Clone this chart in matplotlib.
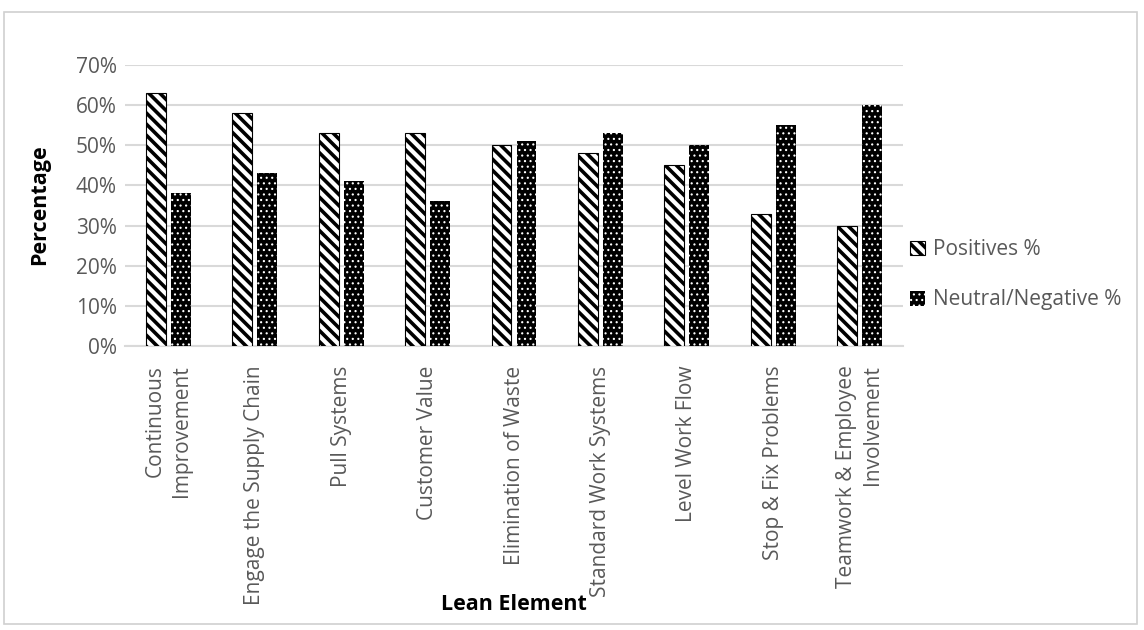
import numpy as np
import matplotlib.pyplot as plt
from matplotlib.patches import Rectangle
from matplotlib.ticker import PercentFormatter

plt.rcParams['font.family'] = ['Open Sans', 'DejaVu Sans']

# Lean elements and survey percentages
categories = ["Continuous\nImprovement", "Engage the Supply Chain", "Pull Systems",
              "Customer Value", "Elimination of Waste", "Standard Work Systems",
              "Level Work Flow", "Stop & Fix Problems", "Teamwork & Employee\nInvolvement"]
positives = [63, 58, 53, 53, 50, 48, 45, 33, 30]
neutral_negative = [38, 43, 41, 36, 51, 53, 50, 55, 60]

fig = plt.figure(figsize=(11.44, 6.30), dpi=100)
ax = fig.add_axes([125 / 1144, 1 - 346 / 630, 778 / 1144, 281 / 630])

# outer chart border
fig.patches.append(Rectangle((4 / 1144, 6 / 630), 1133 / 1144, 612 / 630,
                             transform=fig.transFigure, fill=False,
                             edgecolor='#d0d0d0', linewidth=1.2))

x = np.arange(len(categories))
w = 0.23
gap = 0.06
stripe_lw = 2.6
dot_lw = 0.8
with plt.rc_context({'hatch.linewidth': stripe_lw}):
    b1 = ax.bar(x - (w + gap) / 2, positives, w, facecolor='white', edgecolor='black',
                hatch='\\\\\\', linewidth=0.8, label='Positives %', zorder=3)
with plt.rc_context({'hatch.linewidth': dot_lw}):
    b2 = ax.bar(x + (w + gap) / 2, neutral_negative, w, facecolor='black', edgecolor='white',
                hatch='...', linewidth=0, label='Neutral/Negative %', zorder=3)

ax.set_xlim(-0.5, len(categories) - 0.5)
ax.set_ylim(0, 70)
ax.set_yticks(np.arange(0, 71, 10))
ax.yaxis.set_major_formatter(PercentFormatter(decimals=0))
ax.grid(axis='y', color='#d9d9d9', linewidth=1.5, zorder=0)
for s in ['top', 'right', 'left']:
    ax.spines[s].set_visible(False)
ax.spines['bottom'].set_color('#d9d9d9')
ax.spines['bottom'].set_linewidth(1.5)
ax.tick_params(axis='both', length=0, labelsize=15, labelcolor='#595959')
ax.tick_params(axis='y', pad=6)

ax.set_xticks(x)
ax.set_xticklabels(categories, rotation=90, va='top', ha='center',
                   multialignment='right', linespacing=1.3)
ax.tick_params(axis='x', pad=14)

fig.text(40 / 1144, 1 - 205 / 630, 'Percentage', fontsize=15.5, fontweight='bold',
         rotation=90, ha='center', va='center')
fig.text(514 / 1144, 1 - 605 / 630, 'Lean Element', fontsize=15.5, fontweight='bold',
         ha='center', va='center')

with plt.rc_context({'hatch.linewidth': stripe_lw}):
    fig.legend(handles=[b1], loc='center left', bbox_to_anchor=(900 / 1144, 1 - 250 / 630),
               frameon=False, fontsize=15, labelcolor='#595959',
               handlelength=0.7, handleheight=0.7, handletextpad=0.4, borderpad=0)
with plt.rc_context({'hatch.linewidth': dot_lw}):
    fig.legend(handles=[b2], loc='center left', bbox_to_anchor=(900 / 1144, 1 - 300 / 630),
               frameon=False, fontsize=15, labelcolor='#595959',
               handlelength=0.7, handleheight=0.7, handletextpad=0.4, borderpad=0)

fig.savefig('out.png', dpi=100)
